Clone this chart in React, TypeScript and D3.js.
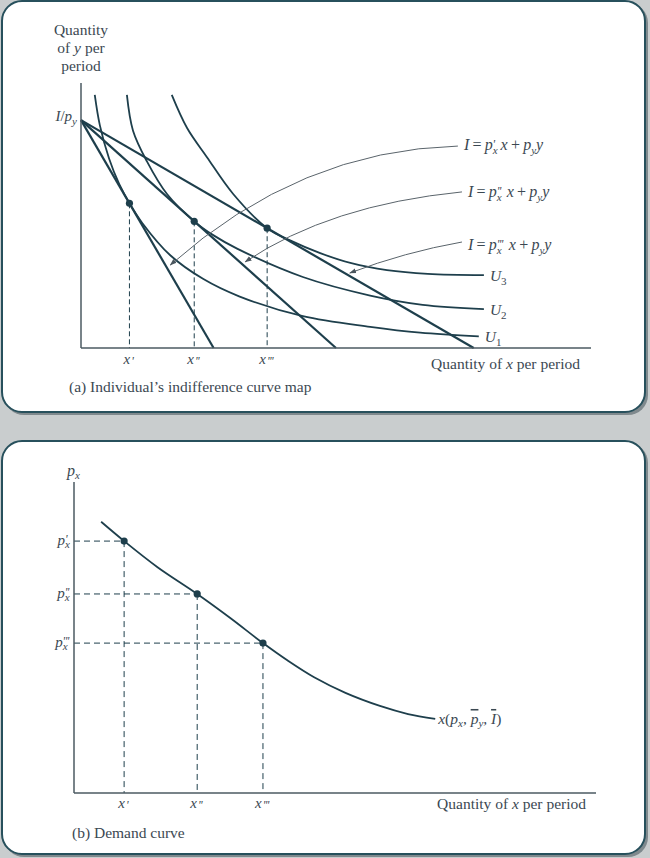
import React from "react";
import * as d3 from "d3";

// ---------- Data (panel a: indifference map, units 0..100) ----------
const incomeOverPy = 86; // I/p_y intercept on y axis
const budgetXIntercepts = [26, 50, 77]; // I/p'_x, I/p''_x, I/p'''_x
const tangentX = [9.5, 22.2, 36.5];
const tangentY = [54.6, 47.8, 45.2];
const primes = ["'", "''", "'''"];

const U1: [number, number][] = [
  [2.7, 95.5], [3.7, 84], [5.5, 71.5], [7.5, 61.8], [9.5, 54.6], [12, 47.2],
  [17.5, 35], [24, 26], [31, 19.5], [43.5, 12], [56.7, 8], [66.5, 5.8], [78, 4.4],
];
const U2: [number, number][] = [
  [9, 95.5], [10.2, 82], [12.9, 70.5], [16.9, 58], [22.2, 47.8], [26, 42.5],
  [30.6, 37.5], [43.5, 26.8], [56.7, 19.8], [67, 16.3], [79, 14.7],
];
const U3: [number, number][] = [
  [17.8, 95.5], [20.8, 83], [24.7, 72], [29.8, 58.2], [36.5, 45.2], [41, 40.6],
  [46.9, 35.8], [53, 32], [60, 29.4], [68, 28], [79, 27.5],
];
const indifference = [
  { name: "1", pts: U1 },
  { name: "2", pts: U2 },
  { name: "3", pts: U3 },
];

// annotation arrows: [start, control, end] in data units
const arrows: [number, number][][] = [
  [[73.9, 76.2], [42.9, 74.7], [17.5, 31.3]],
  [[74.7, 58.9], [48.8, 54], [32.2, 32.5]],
  [[74.7, 40], [63.5, 36.2], [52.7, 28.3]],
];

// ---------- Data (panel b: demand curve, units 0..100) ----------
const demandQ = [9.6, 23.6, 36.2];
const demandP = [81, 64, 48.2];
const demandCurve: [number, number][] = [
  [5.2, 87.2], [9.6, 81], [16, 72.6], [23.6, 64], [30, 56.2], [36.2, 48.2],
  [41, 42.5], [46, 37.2], [52, 32.2], [58.6, 28], [64, 25.4], [69.2, 23.8],
];

const INK = "#1e3f4c";
const TEXT = "#3b4852";
const FONT = "'Liberation Serif', 'DejaVu Serif', serif";

const Prime = ({ i, dx = 0, dy = 0, size = 13 }: { i: number; dx?: number; dy?: number; size?: number }) => (
  <tspan dx={dx} dy={dy} fontSize={size} fontStyle="italic" letterSpacing={-0.5}>
    {primes[i]}
  </tspan>
);

export default function App() {
  const xA = d3.scaleLinear().domain([0, 100]).range([81, 591]);
  const yA = d3.scaleLinear().domain([0, 100]).range([348, 83]);
  const xB = d3.scaleLinear().domain([0, 100]).range([74, 596]);
  const yB = d3.scaleLinear().domain([0, 100]).range([793, 482]);

  const lineA = d3
    .line<[number, number]>()
    .x((d) => xA(d[0]))
    .y((d) => yA(d[1]))
    .curve(d3.curveCatmullRom.alpha(0.5));
  const lineB = d3
    .line<[number, number]>()
    .x((d) => xB(d[0]))
    .y((d) => yB(d[1]))
    .curve(d3.curveCatmullRom.alpha(0.5));

  const arrowPath = (a: [number, number][]) => {
    const p = d3.path();
    p.moveTo(xA(a[0][0]), yA(a[0][1]));
    p.quadraticCurveTo(xA(a[1][0]), yA(a[1][1]), xA(a[2][0]), yA(a[2][1]));
    return p.toString();
  };

  const formulaLabel = (i: number) => {
    const a = arrows[i][0];
    const x = xA(a[0]) + 6;
    const y = yA(a[1]) + [4, 5, 8][i];
    return (
      <text key={"f" + i} x={x} y={y} fontSize={16} fontStyle="italic" fill={TEXT}>
        <tspan>I</tspan>
        <tspan fontStyle="normal">{"\u2009=\u2009"}</tspan>
        <tspan>p</tspan>
        <tspan dy={4} fontSize={11}>x</tspan>
        <Prime i={i} dx={-5} dy={-6} size={12} />
        <tspan dy={2} dx={2}>{" x\u2009"}</tspan>
        <tspan fontStyle="normal">{"+\u2009"}</tspan>
        <tspan>p</tspan>
        <tspan dy={4} fontSize={11}>y</tspan>
        <tspan dy={-4}>y</tspan>
      </text>
    );
  };

  return (
    <div style={{ position: "absolute", left: 0, top: 0 }}>
      <svg width={650} height={858} style={{ display: "block", fontFamily: FONT }}>
        <defs>
          <marker id="ah" viewBox="0 0 10 10" refX="9" refY="5" markerWidth="7" markerHeight="7" orient="auto-start-reverse" markerUnits="userSpaceOnUse">
            <path d="M0,1.5 L10,5 L0,8.5 Z" fill="#4a565e" />
          </marker>
        </defs>
        <rect x={0} y={0} width={650} height={858} fill="#c9cdce" />
        <rect x={4} y={3} width={644} height={412} rx={20} fill="#7f898d" />
        <rect x={2} y={1} width={643} height={411} rx={20} fill="#fff" stroke="#27505c" strokeWidth={2} />
        <rect x={4} y={443} width={644} height={414} rx={20} fill="#7f898d" />
        <rect x={2} y={441} width={643} height={413} rx={20} fill="#fff" stroke="#27505c" strokeWidth={2} />

        {/* ===== Panel (a) ===== */}
        <g>
          <text x={xA(0)} y={35} fontSize={15.5} fill={TEXT} textAnchor="middle">Quantity</text>
          <text x={xA(0)} y={53} fontSize={15.5} fill={TEXT} textAnchor="middle">
            of <tspan fontStyle="italic">y</tspan> per
          </text>
          <text x={xA(0)} y={71} fontSize={15.5} fill={TEXT} textAnchor="middle">period</text>

          <text x={xA(0) - 4} y={yA(incomeOverPy) + 1} fontSize={15} fontStyle="italic" fill={TEXT} textAnchor="end">
            <tspan>I</tspan>
            <tspan fontStyle="normal">/</tspan>
            <tspan>p</tspan>
            <tspan dy={4} fontSize={11}>y</tspan>
          </text>

          {tangentX.map((tx, i) => (
            <line key={"dv" + i} x1={xA(tx)} x2={xA(tx)} y1={yA(tangentY[i])} y2={yA(0)} stroke={INK} strokeWidth={1} strokeDasharray="5,3" />
          ))}

          {indifference.map((u) => (
            <path key={"u" + u.name} d={lineA(u.pts) || ""} fill="none" stroke={INK} strokeWidth={1.8} />
          ))}

          {budgetXIntercepts.map((bx, i) => (
            <line key={"b" + i} x1={xA(0)} y1={yA(incomeOverPy)} x2={xA(bx)} y2={yA(0)} stroke={INK} strokeWidth={2.2} />
          ))}

          {arrows.map((a, i) => (
            <path key={"a" + i} d={arrowPath(a)} fill="none" stroke="#5a646b" strokeWidth={1} markerEnd="url(#ah)" />
          ))}

          {tangentX.map((tx, i) => (
            <circle key={"td" + i} cx={xA(tx)} cy={yA(tangentY[i])} r={3.6} fill={INK} />
          ))}

          <line x1={xA(0)} x2={xA(0)} y1={yA(100)} y2={yA(0)} stroke="#4b5a62" strokeWidth={1.5} />
          <line x1={xA(0)} x2={xA(100)} y1={yA(0)} y2={yA(0)} stroke="#4b5a62" strokeWidth={1.5} />

          {indifference.map((u) => {
            const e = u.pts[u.pts.length - 1];
            return (
              <text key={"ul" + u.name} x={xA(e[0]) + 6} y={yA(e[1]) + 6} fontSize={15.5} fontStyle="italic" fill={TEXT}>
                U<tspan dy={4} fontSize={11} fontStyle="normal">{u.name}</tspan>
              </text>
            );
          })}

          {[0, 1, 2].map((i) => formulaLabel(i))}

          {tangentX.map((tx, i) => (
            <text key={"xt" + i} x={xA(tx) - 1} y={364} fontSize={15} fontStyle="italic" fill={TEXT} textAnchor="middle">
              x<Prime i={i} dx={1} dy={1} size={12} />
            </text>
          ))}

          <text x={580} y={369} fontSize={15.5} fill={TEXT} textAnchor="end">
            Quantity of <tspan fontStyle="italic">x</tspan> per period
          </text>
          <text x={69} y={392} fontSize={15.5} fill={TEXT}>
            (a) Individual’s indifference curve map
          </text>
        </g>

        {/* ===== Panel (b) ===== */}
        <g>
          <text x={xB(0) - 7} y={476} fontSize={16} fontStyle="italic" fill={TEXT}>
            p<tspan dy={3} fontSize={11}>x</tspan>
          </text>

          {demandQ.map((q, i) => (
            <g key={"dd" + i}>
              <line x1={xB(0)} x2={xB(q)} y1={yB(demandP[i])} y2={yB(demandP[i])} stroke={INK} strokeWidth={1} strokeDasharray="6,4" />
              <line x1={xB(q)} x2={xB(q)} y1={yB(demandP[i])} y2={yB(0)} stroke={INK} strokeWidth={1} strokeDasharray="6,4" />
            </g>
          ))}

          <path d={lineB(demandCurve) || ""} fill="none" stroke={INK} strokeWidth={1.8} />

          {demandQ.map((q, i) => (
            <circle key={"dc" + i} cx={xB(q)} cy={yB(demandP[i])} r={3.6} fill={INK} />
          ))}

          <line x1={xB(0)} x2={xB(0)} y1={yB(100)} y2={yB(0)} stroke="#4b5a62" strokeWidth={1.5} />
          <line x1={xB(0)} x2={xB(100)} y1={yB(0)} y2={yB(0)} stroke="#4b5a62" strokeWidth={1.5} />

          {demandP.map((p, i) => (
            <text key={"yp" + i} x={xB(0) - 4} y={yB(p) + 4} fontSize={15} fontStyle="italic" fill={TEXT} textAnchor="end">
              p<tspan dy={3} fontSize={11}>x</tspan>
              <Prime i={i} dx={-5} dy={-5} size={12} />
              <tspan dy={2} fontSize={6}>{"\u2009"}</tspan>
            </text>
          ))}

          {demandQ.map((q, i) => (
            <text key={"xq" + i} x={xB(q) - 1} y={808} fontSize={15} fontStyle="italic" fill={TEXT} textAnchor="middle">
              x<Prime i={i} dx={1} dy={1} size={12} />
            </text>
          ))}

          {(() => {
            const e = demandCurve[demandCurve.length - 1];
            return (
              <text x={xB(e[0]) + 3} y={yB(e[1]) + 5} fontSize={15.5} fontStyle="italic" fill={TEXT}>
                x<tspan fontStyle="normal">(</tspan>p<tspan dy={3} fontSize={11}>x</tspan>
                <tspan dy={-3}>, </tspan>
                <tspan textDecoration="overline">p</tspan>
                <tspan dy={3} fontSize={11}>y</tspan>
                <tspan dy={-3}>, </tspan>
                <tspan textDecoration="overline">I</tspan>
                <tspan fontStyle="normal">)</tspan>
              </text>
            );
          })()}

          <text x={586} y={809} fontSize={15.5} fill={TEXT} textAnchor="end">
            Quantity of <tspan fontStyle="italic">x</tspan> per period
          </text>
          <text x={72} y={838} fontSize={15.5} fill={TEXT}>
            (b) Demand curve
          </text>
        </g>
      </svg>
    </div>
  );
}
